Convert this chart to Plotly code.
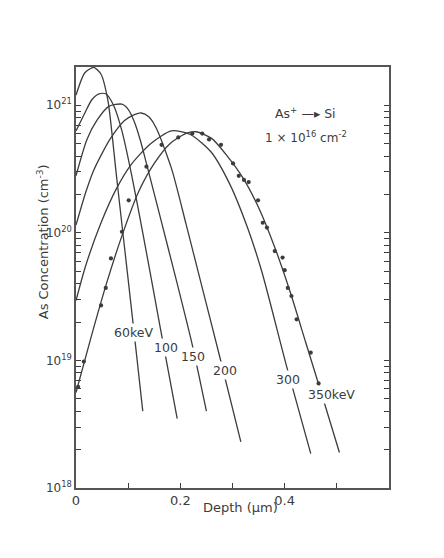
import plotly.graph_objects as go

# ---- data (depth in µm, As concentration in cm^-3) ----
d_60 = [0.0, 0.017, 0.034, 0.048, 0.061, 0.069, 0.076, 0.086, 0.100, 0.114, 0.128]
c_60 = [1.2e21, 1.8e21, 1.98e21, 1.75e21, 1.1e21, 6.0e20, 3.2e20, 1.38e20, 4.3e19, 1.32e19, 4.0e18]

d_100 = [0.0, 0.017, 0.030, 0.044, 0.057, 0.072, 0.088, 0.107, 0.128, 0.147, 0.170, 0.194]
c_100 = [6.3e20, 8.7e20, 1.1e21, 1.23e21, 1.23e21, 1.0e21, 6.3e20, 2.8e20, 1.0e20, 3.8e19, 1.17e19, 3.5e18]

d_150 = [0.0, 0.021, 0.040, 0.063, 0.088, 0.100, 0.112, 0.124, 0.135, 0.160, 0.194, 0.223, 0.250]
c_150 = [2.8e20, 5.4e20, 7.6e20, 9.8e20, 1.02e21, 9.3e20, 7.4e20, 5.2e20, 3.5e20, 1.4e20, 4.0e19, 1.32e19, 4.0e18]

d_200 = [0.0, 0.019, 0.034, 0.065, 0.093, 0.108, 0.125, 0.140, 0.154, 0.183, 0.211, 0.238, 0.276, 0.316]
c_200 = [1.15e20, 2.1e20, 3.1e20, 5.4e20, 7.6e20, 8.3e20, 8.7e20, 8.1e20, 6.6e20, 3.2e20, 1.17e20, 4.3e19, 1.05e19, 2.3e18]

d_300 = [0.0, 0.019, 0.048, 0.078, 0.105, 0.143, 0.183, 0.219, 0.259, 0.295, 0.328, 0.356, 0.404, 0.450]
c_300 = [2.95e19, 5.6e19, 1.2e20, 2.24e20, 3.4e20, 5.0e20, 6.3e20, 5.9e20, 4.3e20, 2.4e20, 1.12e20, 5.0e19, 8.9e18, 1.86e18]

d_350 = [0.0, 0.03, 0.06, 0.09, 0.12, 0.15, 0.18, 0.21, 0.23, 0.26, 0.29, 0.32, 0.35, 0.38, 0.41, 0.44, 0.47, 0.505]
c_350 = [5.6e18, 1.58e19, 4.2e19, 1.0e20, 2.1e20, 3.5e20, 5.0e20, 6.0e20, 6.2e20, 5.5e20, 4.0e20, 2.7e20, 1.58e20,
         7.9e19, 3.5e19, 1.4e19, 5.6e18, 1.9e18]

# measured points (350 keV)
d_meas = [0.004, 0.015, 0.048, 0.057, 0.067, 0.088, 0.101, 0.135, 0.164, 0.196, 0.223, 0.242, 0.255, 0.278,
          0.301, 0.312, 0.322, 0.331, 0.349, 0.358, 0.366, 0.381, 0.396, 0.400, 0.406, 0.413, 0.423, 0.450, 0.465]
c_meas = [6.2e18, 9.8e18, 2.7e19, 3.7e19, 6.3e19, 1.02e20, 1.8e20, 3.3e20, 4.9e20, 5.6e20, 6.0e20, 6.0e20, 5.4e20,
          4.9e20, 3.5e20, 2.8e20, 2.6e20, 2.5e20, 1.8e20, 1.2e20, 1.1e20, 7.2e19, 6.4e19, 5.1e19, 3.7e19, 3.2e19,
          2.1e19, 1.15e19, 6.6e18]

curve_labels = ["60keV", "100", "150", "200", "300", "350keV"]
label_x = [0.110, 0.173, 0.225, 0.286, 0.406, 0.490]
label_logy = [19.22, 19.10, 19.03, 18.92, 18.85, 18.73]

x_tickvals = [0, 0.1, 0.2, 0.3, 0.4, 0.5]
x_ticktext = ["0", "", "0.2", "", "0.4", ""]
y_major_vals = [1e18, 1e19, 1e20, 1e21]
y_major_text = ["10<sup>18</sup>", "10<sup>19</sup>", "10<sup>20</sup>", "10<sup>21</sup>"]
y_minor_vals = [k * 10.0 ** n for n in (18, 19, 20) for k in range(2, 10)]

y_tickvals = y_major_vals + y_minor_vals
y_ticktext = y_major_text + [""] * len(y_minor_vals)

INK = "#3c3c3c"
FONT = "DejaVu Sans"

fig = go.Figure()
for dx, cy in [(d_60, c_60), (d_100, c_100), (d_150, c_150), (d_200, c_200), (d_300, c_300), (d_350, c_350)]:
    fig.add_trace(go.Scatter(x=dx, y=cy, mode="lines", line=dict(color=INK, width=1.3, shape="spline", smoothing=0.7),
                             showlegend=False, hoverinfo="skip", cliponaxis=True))

fig.add_trace(go.Scatter(x=d_meas, y=c_meas, mode="markers",
                         marker=dict(color=INK, size=4.2, symbol="circle"), showlegend=False))

annotations = []
for t, lx, ly in zip(curve_labels, label_x, label_logy):
    annotations.append(dict(x=lx, y=ly, xref="x", yref="y", text=t, showarrow=False,
                            font=dict(family=FONT, size=12.5, color=INK), bgcolor="white", borderpad=1))

annotations += [
    dict(x=0.44, y=20.94, xref="x", yref="y", text="As<sup>+</sup> \u2014\u25b8 Si", showarrow=False,
         font=dict(family=FONT, size=12.5, color=INK)),
    dict(x=0.44, y=20.75, xref="x", yref="y", text="1 \u00d7 10<sup>16</sup> cm<sup>-2</sup>", showarrow=False,
         font=dict(family=FONT, size=12, color=INK)),
    dict(x=0.524, y=-0.069, xref="paper", yref="paper", text="Depth (\u03bcm)", showarrow=False,
         font=dict(family=FONT, size=13, color=INK)),
    dict(x=-0.137, y=0.584, xref="paper", yref="paper", text="As Concentration (cm<sup>-3</sup>)",
         showarrow=False, textangle=-90, font=dict(family=FONT, size=13, color=INK)),
]

fig.update_layout(
    width=444, height=558,
    margin=dict(l=76, r=55, t=67, b=70),
    paper_bgcolor="white", plot_bgcolor="white",
    annotations=annotations,
    font=dict(family=FONT, color=INK),
)

fig.update_xaxes(range=[0, 0.6], tickvals=x_tickvals, ticktext=x_ticktext, ticks="inside", ticklen=5,
                 tickwidth=1.2, tickcolor=INK, showline=True, linecolor="#555", linewidth=1.5, mirror=True,
                 showgrid=False, zeroline=False, tickfont=dict(family=FONT, size=13, color=INK))
fig.update_yaxes(type="log", range=[18, 21.3], tickmode="array", tickvals=y_tickvals, ticktext=y_ticktext,
                 ticks="inside", ticklen=5, tickwidth=1.1, tickcolor=INK, showline=True, linecolor="#555",
                 linewidth=1.5, mirror="allticks", showgrid=False, zeroline=False,
                 tickfont=dict(family=FONT, size=12, color=INK))

fig.write_html("out.html")
